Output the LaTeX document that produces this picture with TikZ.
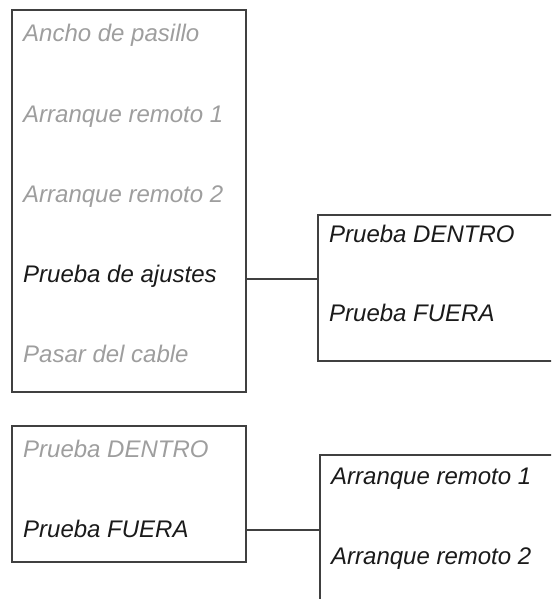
\documentclass[tikz,border=0pt]{standalone}
\usepackage{fontspec}
\setmainfont{Liberation Sans}
\usetikzlibrary{calc}
\definecolor{menuline}{RGB}{64,64,64}
\definecolor{menugray}{RGB}{158,158,158}
\definecolor{menublack}{RGB}{26,26,26}

\begin{document}
\begin{tikzpicture}[x=1pt,y=1pt,yscale=-1,xscale=1,
  menubox/.style={draw=menuline, line width=1.2pt, inner sep=0pt, outer sep=0pt, anchor=north west},
  link/.style={draw=menuline, line width=1.2pt},
  item/.style={anchor=base west, inner sep=0pt, font=\fontsize{24}{28}\selectfont\itshape},
  off/.style={item, text=menugray},
  on/.style={item, text=menublack}]
\useasboundingbox (0,0) rectangle (551,599);
\clip (0,0) rectangle (551,599);
%Shape: Rectangle
\node [menubox, minimum width=234pt, minimum height=382pt] (settings) at (12,10) {};
%Shape: Rectangle
\node [menubox, minimum width=260pt, minimum height=146pt] (inout) at (318,215) {};
%Shape: Rectangle
\node [menubox, minimum width=234pt, minimum height=136pt] (testbox) at (12,426) {};
%Shape: Rectangle
\node [menubox, minimum width=260pt, minimum height=170pt] (remote) at (320,455) {};
% Text Node
\node [off] (ancho) at (23,42) {Ancho de pasillo};
% Text Node
\node [off] (arrA) at (23,122) {Arranque remoto 1};
% Text Node
\node [off] (arrB) at (23,202) {Arranque remoto 2};
% Text Node
\node [on] (ajustes) at (23,282) {Prueba de ajustes};
% Text Node
\node [off] (pasar) at (23,362) {Pasar del cable};
% Text Node
\node [on] (dentroA) at (329,242) {Prueba DENTRO};
% Text Node
\node [on] (fueraA) at (329,321) {Prueba FUERA};
% Text Node
\node [off] (dentroB) at (23,457) {Prueba DENTRO};
% Text Node
\node [on] (fueraB) at (23,537) {Prueba FUERA};
% Text Node
\node [on] (remA) at (331,484) {Arranque remoto 1};
% Text Node
\node [on] (remB) at (331,564) {Arranque remoto 2};
%Straight Lines
\draw [link] ($(ajustes.base -| settings.east)+(0,-3)$) -- ($(ajustes.base -| inout.west)+(0,-3)$);
%Straight Lines
\draw [link] ($(fueraB.base -| testbox.east)+(0,-7)$) -- ($(fueraB.base -| remote.west)+(0,-7)$);
\end{tikzpicture}
\end{document}
